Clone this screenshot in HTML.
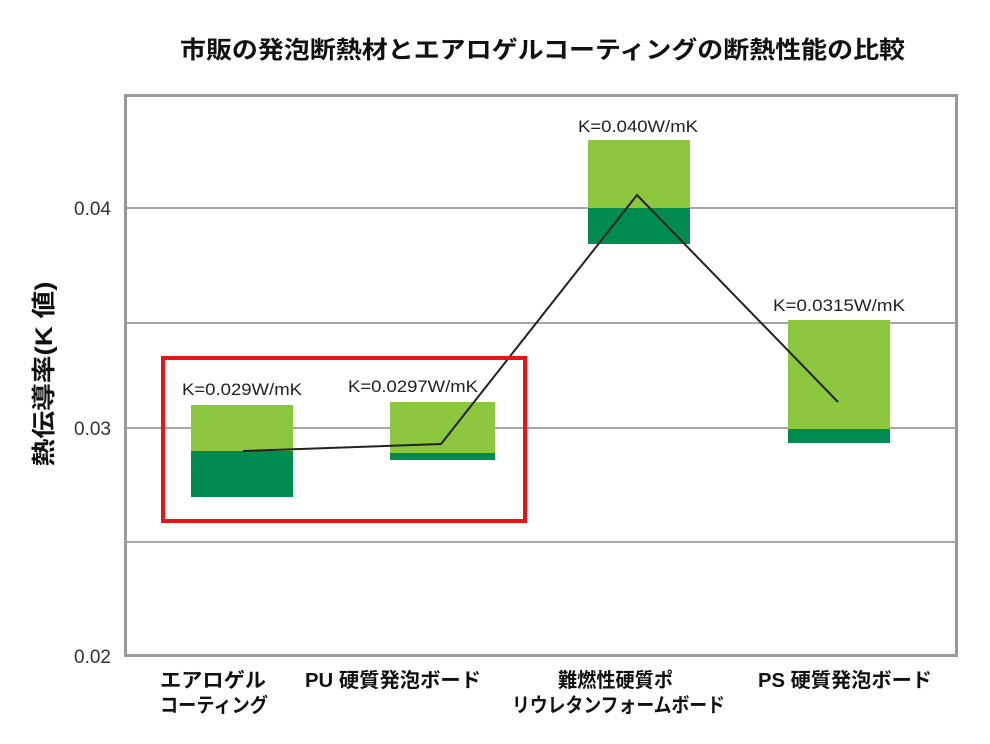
<!DOCTYPE html>
<html><head><meta charset="utf-8"><style>
html,body{margin:0;padding:0;background:#fff;}
svg{display:block;}
.t{font-family:"Liberation Sans","Noto Sans CJK JP",sans-serif;}
</style></head><body>
<svg width="990" height="744" viewBox="0 0 990 744" xmlns="http://www.w3.org/2000/svg">
<rect width="990" height="744" fill="#fff"/>
<text class="t" x="180" y="58" textLength="725" lengthAdjust="spacingAndGlyphs" font-size="24" font-weight="bold" fill="#111">市販の発泡断熱材とエアロゲルコーティングの断熱性能の比較</text>
<!-- grid -->
<g stroke="#a6a6a6" stroke-width="2">
<line x1="125" y1="208" x2="957" y2="208"/>
<line x1="125" y1="323" x2="957" y2="323"/>
<line x1="125" y1="428" x2="957" y2="428"/>
<line x1="125" y1="542" x2="957" y2="542"/>
</g>
<rect x="125.5" y="95.5" width="831" height="560" fill="none" stroke="#999" stroke-width="3"/>
<!-- bars -->
<rect x="191" y="405" width="102" height="46" fill="#8dc63f"/>
<rect x="191" y="451" width="102" height="46" fill="#008c50"/>
<rect x="390" y="402" width="105" height="51" fill="#8dc63f"/>
<rect x="390" y="453" width="105" height="7" fill="#008c50"/>
<rect x="588" y="140" width="102" height="68" fill="#8dc63f"/>
<rect x="588" y="208" width="102" height="36" fill="#008c50"/>
<rect x="788" y="320" width="102" height="109" fill="#8dc63f"/>
<rect x="788" y="429" width="102" height="14" fill="#008c50"/>
<polyline points="243,451 441,444 637,195 838,402" fill="none" stroke="#222" stroke-width="2"/>
<rect x="163" y="358" width="362" height="163" fill="none" stroke="#e8141b" stroke-width="4"/>
<!-- value labels -->
<g class="t" font-size="17" fill="#222">
<text x="182" y="395" textLength="120" lengthAdjust="spacingAndGlyphs">K=0.029W/mK</text>
<text x="348" y="392" textLength="130" lengthAdjust="spacingAndGlyphs">K=0.0297W/mK</text>
<text x="578" y="132" textLength="120" lengthAdjust="spacingAndGlyphs">K=0.040W/mK</text>
<text x="773" y="311" textLength="132" lengthAdjust="spacingAndGlyphs">K=0.0315W/mK</text>
</g>
<!-- ticks -->
<g class="t" font-size="19" fill="#333" text-anchor="end">
<text x="111" y="215">0.04</text>
<text x="111" y="435">0.03</text>
<text x="111" y="663">0.02</text>
</g>
<text class="t" transform="translate(52,374) rotate(-90)" text-anchor="middle" textLength="185" lengthAdjust="spacingAndGlyphs" font-size="24" font-weight="bold" fill="#111">熱伝導率(K 値)</text>
<!-- x labels -->
<g class="t" font-size="20" font-weight="bold" fill="#111">
<text x="160" y="687" textLength="106" lengthAdjust="spacingAndGlyphs">エアロゲル</text>
<text x="160" y="712" textLength="108" lengthAdjust="spacingAndGlyphs">コーティング</text>
<text x="305" y="687" textLength="176" lengthAdjust="spacingAndGlyphs">PU 硬質発泡ボード</text>
<text x="558" y="687" textLength="115" lengthAdjust="spacingAndGlyphs">難燃性硬質ポ</text>
<text x="512" y="712" textLength="213" lengthAdjust="spacingAndGlyphs">リウレタンフォームボード</text>
<text x="758" y="687" textLength="174" lengthAdjust="spacingAndGlyphs">PS 硬質発泡ボード</text>
</g>
</svg>
</body></html>
